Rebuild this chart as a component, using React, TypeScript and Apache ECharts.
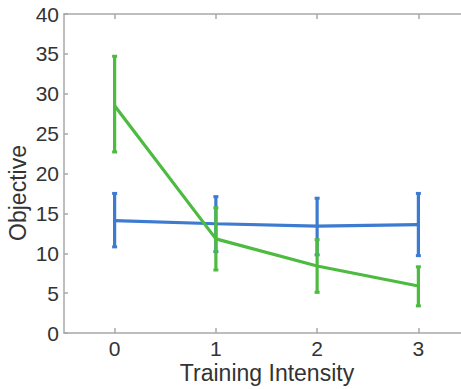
import React, { useEffect, useRef } from "react";
import * as echarts from "echarts";

const categories = ["0", "1", "2", "3"];
const blueMean = [14.1, 13.7, 13.4, 13.6];
const blueUpper = [17.5, 17.1, 16.9, 17.5];
const blueLower = [10.8, 10.2, 9.8, 9.7];
const greenMean = [28.5, 11.8, 8.4, 5.9];
const greenUpper = [34.7, 15.7, 11.7, 8.3];
const greenLower = [22.7, 7.9, 5.1, 3.4];
const yTicks = { min: 0, max: 40, interval: 5 };
const xTitle = "Training Intensity";
const yTitle = "Objective";

const BLUE = "#3d7bd0";
const GREEN = "#4cbb40";
const AXIS = "#a8a8a8";
const TEXT = "#333333";
const FONT = "Liberation Sans, Arial, sans-serif";

function errorSeries(lower: number[], upper: number[], color: string) {
  return {
    type: "custom",
    xAxisIndex: 0,
    yAxisIndex: 0,
    z: 3,
    data: lower.map((l, i) => [i, l, upper[i]]),
    renderItem: (params: any, api: any) => {
      const lo = api.coord([api.value(0), api.value(1)]);
      const hi = api.coord([api.value(0), api.value(2)]);
      const cw = 5;
      const ch = 3;
      return {
        type: "group",
        children: [
          {
            type: "line",
            shape: { x1: lo[0], y1: lo[1], x2: hi[0], y2: hi[1] },
            style: { stroke: color, lineWidth: 3.2 },
          },
          {
            type: "rect",
            shape: { x: hi[0] - cw / 2, y: hi[1] - ch / 2, width: cw, height: ch },
            style: { fill: color },
          },
          {
            type: "rect",
            shape: { x: lo[0] - cw / 2, y: lo[1] - ch / 2, width: cw, height: ch },
            style: { fill: color },
          },
        ],
      };
    },
  };
}

export default function App() {
  const ref = useRef<HTMLDivElement>(null);
  useEffect(() => {
    if (!ref.current) return;
    const chart = echarts.init(ref.current, undefined, { renderer: "svg" });
    const axisCommon = {
      type: "category",
      data: categories,
      boundaryGap: true,
      axisLine: { show: true, lineStyle: { color: AXIS, width: 1.5 } },
      axisTick: { show: true, inside: true, alignWithLabel: true, length: 5, lineStyle: { color: AXIS, width: 1.5 } },
      splitLine: { show: false },
    };
    chart.setOption({
      animation: false,
      backgroundColor: "#ffffff",
      grid: { left: 64, right: 0, top: 14, bottom: 56, containLabel: false },
      xAxis: [
        {
          ...axisCommon,
          position: "bottom",
          axisLabel: { show: true, color: TEXT, fontSize: 21, lineHeight: 18, fontFamily: FONT, margin: 6 },
        },
        {
          ...axisCommon,
          position: "top",
          axisLabel: { show: false },
        },
      ],
      yAxis: {
        type: "value",
        min: yTicks.min,
        max: yTicks.max,
        interval: yTicks.interval,
        axisLine: { show: true, lineStyle: { color: AXIS, width: 1.5 } },
        axisTick: { show: true, inside: true, length: 4, lineStyle: { color: AXIS, width: 1.5 } },
        axisLabel: { show: true, color: TEXT, fontSize: 21, fontFamily: FONT, margin: 5 },
        splitLine: { show: false },
      },
      graphic: [
        {
          type: "text",
          x: 267,
          y: 373,
          style: {
            text: xTitle,
            fill: TEXT,
            font: `23px ${FONT}`,
            textAlign: "center",
            textVerticalAlign: "middle",
          },
        },
        {
          type: "text",
          x: 18,
          y: 193,
          rotation: Math.PI / 2,
          style: {
            text: yTitle,
            fill: TEXT,
            font: `23px ${FONT}`,
            textAlign: "center",
            textVerticalAlign: "middle",
          },
        },
      ],
      series: [
        {
          type: "line",
          data: blueMean,
          symbol: "none",
          z: 2,
          lineStyle: { color: BLUE, width: 3.2 },
          itemStyle: { color: BLUE },
        },
        errorSeries(blueLower, blueUpper, BLUE),
        {
          type: "line",
          data: greenMean,
          symbol: "none",
          z: 4,
          lineStyle: { color: GREEN, width: 3.2 },
          itemStyle: { color: GREEN },
        },
        { ...errorSeries(greenLower, greenUpper, GREEN), z: 5 },
      ],
    });
    return () => chart.dispose();
  }, []);
  return (
    <div style={{ position: "absolute", left: 0, top: 0, width: 461, height: 389, overflow: "hidden" }}>
      <div ref={ref} style={{ width: 469, height: 389 }} />
    </div>
  );
}
